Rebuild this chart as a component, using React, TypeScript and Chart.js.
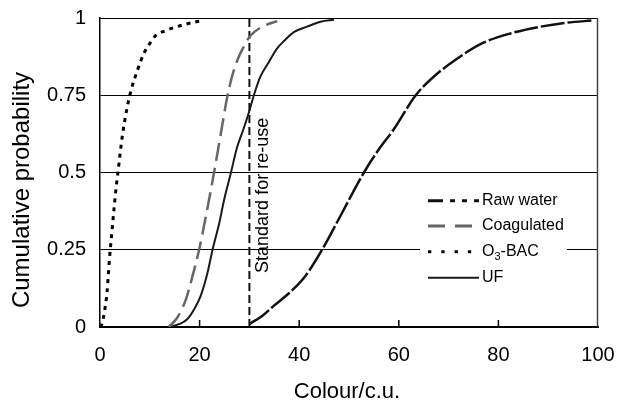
import { useEffect, useRef } from "react";
import { Chart, registerables } from "chart.js";

Chart.register(...registerables);

const FONT = "'Liberation Sans', Arial, Helvetica, sans-serif";

// Cumulative probability curves (x = colour in c.u., p = cumulative probability)
const rawWaterX = [30, 32.5, 35, 38, 41, 44.6, 48.3, 53, 56, 59, 63.4, 67, 71.4, 77, 82.4, 88.5, 93.8, 99];
const rawWaterP = [0.01, 0.035, 0.07, 0.11, 0.16, 0.25, 0.36, 0.5, 0.575, 0.64, 0.75, 0.81, 0.865, 0.92, 0.95, 0.972, 0.985, 0.992];

const coagulatedX = [13.8, 15.5, 17.2, 18.5, 19.9, 21.4, 22.9, 24.2, 25.5, 26.5, 27.6, 28.8, 29.8, 31, 33, 35.6];
const coagulatedP = [0, 0.03, 0.087, 0.16, 0.25, 0.37, 0.5, 0.62, 0.74, 0.81, 0.864, 0.905, 0.934, 0.955, 0.975, 0.99];

const o3bacX = [0, 0.4, 0.9, 1.4, 1.9, 2.4, 2.8, 3.3, 3.6, 4.5, 5.1, 5.7, 6.3, 7.5, 8.8, 10.1, 11.3, 13, 14.5, 17.2, 20.8];
const o3bacP = [0, 0.01, 0.05, 0.11, 0.22, 0.31, 0.38, 0.46, 0.5, 0.62, 0.68, 0.73, 0.77, 0.83, 0.885, 0.92, 0.945, 0.958, 0.967, 0.98, 0.993];

const ufX = [13.8, 16, 17.5, 19, 20.2, 21.5, 22.6, 24, 24.9, 26.3, 27.5, 28.8, 30, 30.9, 32.2, 34, 35.5, 36.9, 39, 41.6, 44.3, 47];
const ufP = [0, 0.01, 0.025, 0.06, 0.1, 0.17, 0.25, 0.34, 0.41, 0.5, 0.58, 0.64, 0.7, 0.75, 0.81, 0.86, 0.9, 0.925, 0.955, 0.972, 0.988, 0.994];

const standardX = [30, 30];
const standardP = [0, 1];

const yTickLabels = ["0", "0.25", "0.5", "0.75", "1"];
const seriesLabels = ["Raw water", "Coagulated", "O3-BAC", "UF"];
const standardLabel = "Standard for re-use";
const xTitle = "Colour/c.u.";
const yTitle = "Cumulative probability";
const xInnerTicks = [20, 40, 60, 80];

const toPoints = (xs: number[], ps: number[]) => xs.map((x, i) => ({ x, y: ps[i] }));

const legendStyles = [
  { color: "#111111", width: 3, dash: [15, 7, 5, 7, 5, 7, 5] },
  { color: "#666666", width: 3, dash: [17, 10, 17] },
  { color: "#000000", width: 3, dash: [3.3, 10] },
  { color: "#1a1a1a", width: 2, dash: [] as number[] },
];

const decorPlugin = {
  id: "decor",
  afterDraw(chart: any) {
    const { ctx, chartArea, scales } = chart;
    const xs = scales.x;
    const ys = scales.y;
    ctx.save();

    // top and right frame
    ctx.strokeStyle = "#000";
    ctx.lineWidth = 1;
    ctx.beginPath();
    ctx.moveTo(chartArea.left, chartArea.top + 0.5);
    ctx.lineTo(chartArea.right, chartArea.top + 0.5);
    ctx.stroke();
    ctx.strokeStyle = "#444";
    ctx.lineWidth = 1.5;
    ctx.beginPath();
    ctx.moveTo(chartArea.right - 0.5, chartArea.top);
    ctx.lineTo(chartArea.right - 0.5, chartArea.bottom);
    ctx.stroke();

    // inward x ticks
    ctx.strokeStyle = "#000";
    ctx.lineWidth = 1.5;
    for (const v of xInnerTicks) {
      const px = xs.getPixelForValue(v);
      ctx.beginPath();
      ctx.moveTo(px, chartArea.bottom);
      ctx.lineTo(px, chartArea.bottom - 7);
      ctx.stroke();
    }

    // standard annotation text
    ctx.fillStyle = "#000";
    ctx.font = `18px ${FONT}`;
    ctx.textAlign = "left";
    ctx.textBaseline = "middle";
    ctx.save();
    ctx.translate(xs.getPixelForValue(30) + 14, ys.getPixelForValue(0.175));
    ctx.rotate(-Math.PI / 2);
    ctx.fillText(standardLabel, 0, 0);
    ctx.restore();

    // axis titles
    ctx.font = `22px ${FONT}`;
    ctx.textAlign = "center";
    ctx.textBaseline = "alphabetic";
    ctx.fillText(xTitle, (chartArea.left + chartArea.right) / 2 - 2, 398);
    ctx.save();
    ctx.font = `24px ${FONT}`;
    ctx.textBaseline = "middle";
    ctx.translate(22, 190);
    ctx.rotate(-Math.PI / 2);
    ctx.fillText(yTitle, 0, 0);
    ctx.restore();

    // legend
    const bx = 420, by = 187, bw = 147, bh = 104;
    ctx.fillStyle = "#fff";
    ctx.fillRect(bx, by, bw, bh);
    const rowY = [200.7, 226, 251.7, 277.7];
    ctx.textAlign = "left";
    ctx.textBaseline = "middle";
    seriesLabels.forEach((label, i) => {
      const st = legendStyles[i];
      const y = rowY[i];
      ctx.strokeStyle = st.color;
      ctx.lineWidth = st.width;
      ctx.setLineDash(st.dash);
      ctx.lineCap = "butt";
      ctx.beginPath();
      ctx.moveTo(428, y);
      ctx.lineTo(479, y);
      ctx.stroke();
      ctx.setLineDash([]);
      ctx.fillStyle = "#000";
      if (label === "O3-BAC") {
        let tx = 482;
        ctx.font = `16px ${FONT}`;
        ctx.fillText("O", tx, y);
        tx += ctx.measureText("O").width;
        ctx.font = `11px ${FONT}`;
        ctx.fillText("3", tx, y + 5);
        tx += ctx.measureText("3").width;
        ctx.font = `16px ${FONT}`;
        ctx.fillText("-BAC", tx, y);
      } else {
        ctx.font = `16px ${FONT}`;
        ctx.fillText(label, 482, y);
      }
    });

    ctx.restore();
  },
};

export default function App() {
  const ref = useRef<HTMLCanvasElement | null>(null);

  useEffect(() => {
    document.body.style.margin = "0";
    const canvas = ref.current;
    if (!canvas) return;
    const chart = new Chart(canvas, {
      type: "line",
      data: {
        datasets: [
          {
            label: seriesLabels[0],
            data: toPoints(rawWaterX, rawWaterP),
            borderColor: "#111111",
            borderWidth: 2.5,
            borderDash: [24, 3],
            pointRadius: 0,
            cubicInterpolationMode: "monotone",
            fill: false,
          },
          {
            label: seriesLabels[1],
            data: toPoints(coagulatedX, coagulatedP),
            borderColor: "#666666",
            borderWidth: 2.5,
            borderDash: [18, 7],
            pointRadius: 0,
            cubicInterpolationMode: "monotone",
            fill: false,
          },
          {
            label: seriesLabels[2],
            data: toPoints(o3bacX, o3bacP),
            borderColor: "#000000",
            borderWidth: 3,
            borderDash: [4, 5],
            pointRadius: 0,
            cubicInterpolationMode: "monotone",
            fill: false,
          },
          {
            label: seriesLabels[3],
            data: toPoints(ufX, ufP),
            borderColor: "#1a1a1a",
            borderWidth: 2,
            pointRadius: 0,
            cubicInterpolationMode: "monotone",
            fill: false,
          },
          {
            label: standardLabel,
            data: toPoints(standardX, standardP),
            borderColor: "#111111",
            borderWidth: 2,
            borderDash: [8, 4],
            pointRadius: 0,
            fill: false,
          },
        ],
      },
      options: {
        animation: false,
        responsive: false,
        layout: { padding: { top: 18, right: 20, left: 0, bottom: 0 } },
        plugins: { legend: { display: false }, tooltip: { enabled: false }, title: { display: false } },
        scales: {
          x: {
            type: "linear",
            min: 0,
            max: 100,
            ticks: { stepSize: 20, color: "#000", font: { family: FONT, size: 20 }, padding: 16, maxRotation: 0 },
            grid: { drawOnChartArea: false, drawTicks: false },
            border: { display: true, color: "#000", width: 2 },
            afterFit: (s: any) => {
              s.height = 80;
              s.paddingLeft = 0;
              s.paddingRight = 0;
              s.paddingTop = 0;
              s.paddingBottom = 0;
            },
          },
          y: {
            type: "linear",
            min: 0,
            max: 1,
            ticks: {
              stepSize: 0.25,
              color: "#000",
              font: { family: FONT, size: 20 },
              padding: 14,
              callback: (_v: any, i: number) => yTickLabels[i],
            },
            grid: { color: "#000", lineWidth: 1, drawTicks: false },
            border: { display: true, color: "#000", width: 1.5 },
            afterFit: (s: any) => {
              s.width = 100;
              s.paddingLeft = 0;
              s.paddingRight = 0;
              s.paddingTop = 0;
              s.paddingBottom = 0;
            },
          },
        },
      },
      plugins: [decorPlugin],
    } as any);
    return () => chart.destroy();
  }, []);

  return (
    <div style={{ width: 618, height: 407, background: "#fff" }}>
      <canvas ref={ref} width={618} height={407} style={{ display: "block" }} />
    </div>
  );
}
